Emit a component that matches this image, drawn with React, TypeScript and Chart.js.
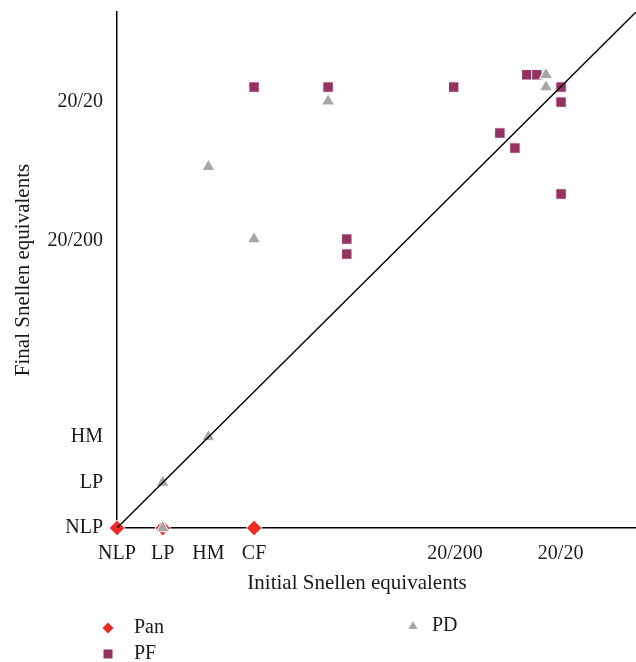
import React, { useEffect, useRef } from "react";
import { Chart, registerables } from "chart.js";

Chart.register(...registerables);

const xTickValues = [0, 1, 2, 3, 7.4, 9.71];
const xTickLabels = ["NLP", "LP", "HM", "CF", "20/200", "20/20"];
const yTickValues = [0, 1, 2, 6.32, 9.37];
const yTickLabels = ["NLP", "LP", "HM", "20/200", "20/20"];

const panX = [0, 1, 3];
const panY = [0, 0, 0];

const pfX = [3, 4.62, 5.03, 5.03, 7.37, 8.38, 8.71, 8.97, 9.19, 9.72, 9.72, 9.72];
const pfY = [9.69, 9.69, 6.35, 6.02, 9.69, 8.68, 8.35, 9.96, 9.96, 9.69, 9.36, 7.34];

const pdX = [1, 1, 2, 2, 3, 4.62, 9.39, 9.39];
const pdY = [0, 1, 2, 7.94, 6.35, 9.38, 9.96, 9.69];

const lineX = [0, 11.36];
const lineY = [0, 11.34];

const X_TITLE = "Initial Snellen equivalents";
const Y_TITLE = "Final Snellen equivalents";

const FONT = "'Liberation Serif', 'DejaVu Serif', serif";
const PAN_COLOR = "#EE2A24";
const PF_COLOR = "#943262";
const PD_COLOR = "#A6A6A6";
const TEXT_COLOR = "#1a1a1a";

const zip = (xs: number[], ys: number[]) => xs.map((x, i) => ({ x, y: ys[i] }));

const legendPlugin = {
  id: "customLegend",
  afterDraw(chart: any) {
    const ctx = chart.ctx;
    ctx.save();
    // x title
    ctx.font = `21px ${FONT}`;
    ctx.fillStyle = TEXT_COLOR;
    ctx.textBaseline = "middle";
    ctx.textAlign = "center";
    ctx.fillText(X_TITLE, 357, 583);

    ctx.font = `20px ${FONT}`;
    ctx.textAlign = "left";
    // Pan diamond
    ctx.fillStyle = PAN_COLOR;
    ctx.beginPath();
    const dx = 108, dy = 628, dr = 5.5;
    ctx.moveTo(dx, dy - dr);
    ctx.lineTo(dx + dr, dy);
    ctx.lineTo(dx, dy + dr);
    ctx.lineTo(dx - dr, dy);
    ctx.closePath();
    ctx.fill();
    // PF square
    ctx.fillStyle = PF_COLOR;
    ctx.fillRect(108 - 4.5, 654 - 4.5, 9, 9);
    // PD triangle
    ctx.fillStyle = PD_COLOR;
    ctx.beginPath();
    const tx = 413, ty = 626;
    ctx.moveTo(tx, ty - 5);
    ctx.lineTo(tx + 4.5, ty + 3);
    ctx.lineTo(tx - 4.5, ty + 3);
    ctx.closePath();
    ctx.fill();
    ctx.fillStyle = TEXT_COLOR;
    ctx.fillText(chart.data.datasets[0].label, 134, 628);
    ctx.fillText(chart.data.datasets[1].label, 134, 654);
    ctx.fillText(chart.data.datasets[2].label, 432, 626);
    ctx.restore();
  },
};

export default function App() {
  const ref = useRef<HTMLCanvasElement | null>(null);
  useEffect(() => {
    if (!ref.current) return;
    const chart = new Chart(ref.current, {
      type: "scatter",
      data: {
        datasets: [
          {
            label: "Pan",
            data: zip(panX, panY),
            pointStyle: "rectRot",
            pointRadius: 7.8,
            backgroundColor: PAN_COLOR,
            borderColor: "#ffffff",
            borderWidth: 1,
            clip: false,
            order: 3,
          } as any,
          {
            label: "PF",
            data: zip(pfX, pfY),
            pointStyle: "rect",
            pointRadius: 7.4,
            backgroundColor: PF_COLOR,
            borderColor: "#ffffff",
            borderWidth: 1,
            clip: false,
            order: 2,
          },
          {
            label: "PD",
            data: zip(pdX, pdY),
            pointStyle: "triangle",
            pointRadius: 7.5,
            backgroundColor: PD_COLOR,
            borderColor: "#ffffff",
            borderWidth: 1,
            clip: false,
            order: 1,
          },
          {
            label: "line",
            data: zip(lineX, lineY),
            showLine: true,
            borderColor: "#000000",
            borderWidth: 1.4,
            pointRadius: 0,
            order: 0,
          },
        ],
      },
      options: {
        animation: false,
        responsive: false,
        layout: { autoPadding: false, padding: { top: 12, right: 0, left: 0, bottom: 0 } },
        plugins: {
          legend: { display: false },
          tooltip: { enabled: false },
        },
        scales: {
          x: {
            type: "linear",
            min: 0,
            max: 11.36,
            afterBuildTicks: (scale: any) => {
              scale.ticks = xTickValues.map((v) => ({ value: v }));
            },
            afterFit: (scale: any) => {
              scale.height = 134;
              scale.paddingLeft = 0;
              scale.paddingRight = 0;
            },
            grid: { display: false, drawTicks: false },
            border: { display: true, color: "#000000", width: 1.5 },
            ticks: {
              autoSkip: false,
              maxRotation: 0,
              padding: 14,
              color: TEXT_COLOR,
              font: { family: FONT, size: 20 },
              callback: (_v: any, i: number) => xTickLabels[i],
            },
            title: { display: false },
          },
          y: {
            type: "linear",
            min: 0,
            max: 11.34,
            afterBuildTicks: (scale: any) => {
              scale.ticks = yTickValues.map((v) => ({ value: v }));
            },
            afterFit: (scale: any) => {
              scale.width = 117;
              scale.paddingTop = 0;
              scale.paddingBottom = 0;
            },
            grid: { display: false, drawTicks: false },
            border: { display: true, color: "#000000", width: 1.5 },
            ticks: {
              autoSkip: false,
              padding: 14,
              color: TEXT_COLOR,
              font: { family: FONT, size: 20 },
              callback: (_v: any, i: number) => yTickLabels[i],
            },
            title: {
              display: true,
              text: Y_TITLE,
              color: TEXT_COLOR,
              font: { family: FONT, size: 21 },
              padding: { top: 11, bottom: 0 },
            },
          },
        },
      },
      plugins: [legendPlugin],
    });
    return () => chart.destroy();
  }, []);
  return (
    <div style={{ position: "absolute", left: 0, top: 0, width: 636, height: 662 }}>
      <canvas ref={ref} width={636} height={662} style={{ width: 636, height: 662 }} />
    </div>
  );
}
